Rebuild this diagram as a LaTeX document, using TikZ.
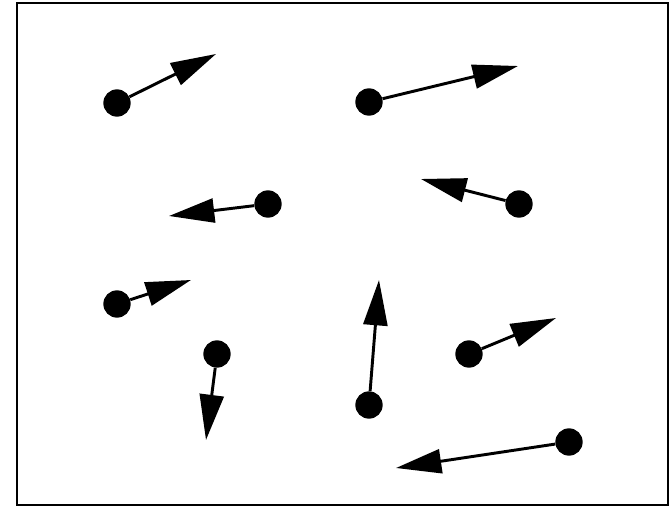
\documentclass[tikz,border=0pt]{standalone}
\usetikzlibrary{arrows.meta}
\begin{document}
\begin{tikzpicture}[x=0.75pt,y=-0.75pt,
  dot/.style={circle,fill=black,inner sep=0pt,minimum size=20.5pt},
  vec/.style={line width=2.2pt,-{Triangle[length=34pt,width=18pt]}}]
\useasboundingbox (0,0) rectangle (672,509);
\draw[line width=2.2pt] (17,3) rectangle (668,505);
\node[dot] (d1) at (117,103) {};
\node[dot] (d2) at (369,102) {};
\node[dot] (d3) at (268,204) {};
\node[dot] (d4) at (519,204) {};
\node[dot] (d5) at (117,304) {};
\node[dot] (d6) at (217,354) {};
\node[dot] (d7) at (369,405) {};
\node[dot] (d8) at (469,354) {};
\node[dot] (d9) at (569,442) {};
\coordinate (t1) at (216,54);
\coordinate (t2) at (518,66);
\coordinate (t3) at (169,216);
\coordinate (t4) at (421,179);
\coordinate (t5) at (191,280);
\coordinate (t6) at (206,440);
\coordinate (t7) at (379,280);
\coordinate (t8) at (556,318);
\coordinate (t9) at (396,468);
\foreach \i in {1,...,9}{\draw[vec] (d\i) -- (t\i);}
\end{tikzpicture}
\end{document}
